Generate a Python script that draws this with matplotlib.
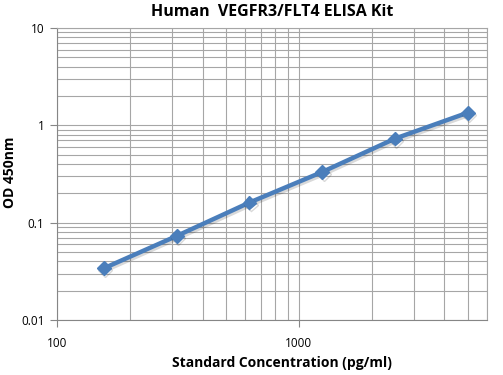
import matplotlib
matplotlib.use("Agg")
import matplotlib.pyplot as plt
import matplotlib.patheffects as pe
from matplotlib.ticker import LogLocator, FixedLocator, NullFormatter

conc = [156.25, 312.5, 625, 1250, 2500, 5000]
od = [0.034, 0.073, 0.161, 0.332, 0.731, 1.35]
x_ticks = [100, 1000]
x_labels = ["100", "1000"]
y_ticks = [0.01, 0.1, 1, 10]
y_labels = ["0.01", "0.1", "1", "10"]

plt.rcParams['font.family'] = ['Open Sans', 'DejaVu Sans']

W, H = 503, 375
fig = plt.figure(figsize=(W / 100, H / 100), dpi=100)
ax = fig.add_axes([57 / W, 1 - 320 / H, 430 / W, 292 / H])
ax.set_xscale('log')
ax.set_yscale('log')
ax.set_xlim(100, 6000)
ax.set_ylim(0.01, 10)

grid_c = '#a6a6a6'
ax.xaxis.set_major_locator(FixedLocator(x_ticks))
ax.set_xticklabels(x_labels)
ax.xaxis.set_minor_locator(LogLocator(base=10, subs=range(2, 10)))
ax.xaxis.set_minor_formatter(NullFormatter())
ax.yaxis.set_major_locator(FixedLocator(y_ticks))
ax.set_yticklabels(y_labels)
ax.yaxis.set_minor_locator(LogLocator(base=10, subs=range(2, 10)))
ax.yaxis.set_minor_formatter(NullFormatter())

ax.grid(True, which='both', color=grid_c, linewidth=0.8)
ax.set_axisbelow(True)
ax.tick_params(axis='x', which='major', length=5, color='#868686', pad=7, labelsize=8.5)
ax.tick_params(axis='x', which='minor', length=0)
ax.tick_params(axis='y', which='major', length=5, color='#868686', pad=4, labelsize=8.5)
ax.tick_params(axis='y', which='minor', length=0)

for s in ['left', 'bottom']:
    ax.spines[s].set_color('#868686')
for s in ['top', 'right']:
    ax.spines[s].set_color(grid_c)
    ax.spines[s].set_linewidth(0.8)

ax.plot(conc, od, color='#4a7ebb', linewidth=3.2, marker='D', markersize=7,
        solid_capstyle='round', zorder=3,
        path_effects=[pe.SimpleLineShadow(offset=(1, -1.5), alpha=0.15), pe.Normal()])

fig.text(272 / W, 1 - 12 / H, 'Human  VEGFR3/FLT4 ELISA Kit', fontsize=11.5,
         fontweight='bold', ha='center', va='center')
fig.text(282 / W, 1 - 363 / H, 'Standard Concentration (pg/ml)', fontsize=10,
         fontweight='bold', ha='center', va='center')
fig.text(10 / W, 1 - 172 / H, 'OD 450nm', fontsize=10, fontweight='bold',
         rotation=90, ha='center', va='center')

fig.savefig('out.png', dpi=100)
